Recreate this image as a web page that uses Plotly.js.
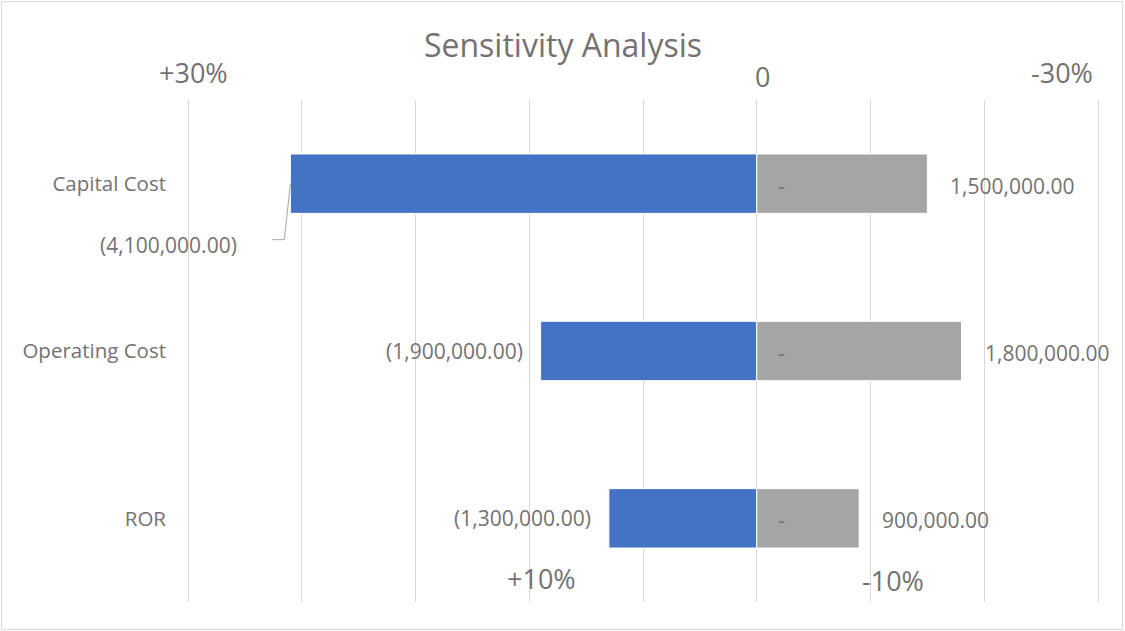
<!DOCTYPE html>
<html>
<head>
<meta charset="utf-8">
<script src="https://cdn.plot.ly/plotly-3.0.1.min.js"></script>
<style>html,body{margin:0;padding:0;background:#fff;}#chart{width:1125px;height:631px;}</style>
</head>
<body>
<div id="chart"></div>
<script>
// ---- data ----
const categories = ["Capital Cost", "Operating Cost", "ROR"];
const increaseValues = [-4100000, -1900000, -1300000];   // blue (+ change)
const decreaseValues = [1500000, 1800000, 900000];       // gray (- change)
const baseLabels = ["-", "-", "-"];
const scenarioLabels = ["+30%", "0", "-30%", "+10%", "-10%"];
const chartTitle = "Sensitivity Analysis";

// ---- styling / layout ----
const W = 1125, H = 631;
const pad = 10;                               // extra pixels each side so edge gridlines are drawn
const L = 188 - pad, R = 1098 + pad, T = 100, B = 602;
const textColor = "#757171";
const font = "Open Sans, sans-serif";
const px2x = p => (p - L) / (R - L);
const px2y = p => (B - p) / (B - T);
const unitPx = 113.75;                        // pixels per 1,000,000
const xMin = -5000000 - pad * 1000000 / unitPx, xMax = 3000000 + pad * 1000000 / unitPx;

function fmt(v) {
  const s = Math.abs(v).toLocaleString("en-US", {minimumFractionDigits: 2, maximumFractionDigits: 2});
  return v < 0 ? "(" + s + ")" : s;
}

const blue = {
  type: "bar", orientation: "h", y: categories, x: increaseValues, base: 0,
  width: 0.355, marker: {color: "#4472C4", line: {color: "#ffffff", width: 1}},
  hoverinfo: "x+y", showlegend: false
};
const gray = {
  type: "bar", orientation: "h", y: categories, x: decreaseValues, base: 0,
  width: 0.355, marker: {color: "#A5A5A5", line: {color: "#ffffff", width: 1}},
  hoverinfo: "x+y", showlegend: false
};

const labelFont = {family: font, size: 21, color: textColor};
const annotations = [];
categories.forEach((c, i) => {
  if (i === 0) {
    annotations.push({x: increaseValues[i], y: c, xref: "x", yref: "y", text: fmt(increaseValues[i]),
      showarrow: false, xanchor: "right", yanchor: "middle", xshift: -51, yshift: -61, font: labelFont});
  } else {
    annotations.push({x: increaseValues[i], y: c, xref: "x", yref: "y", text: fmt(increaseValues[i]),
      showarrow: false, xanchor: "right", yanchor: "middle", xshift: -16, yshift: 0, font: labelFont});
  }
  annotations.push({x: decreaseValues[i], y: c, xref: "x", yref: "y", text: fmt(decreaseValues[i]),
    showarrow: false, xanchor: "left", yanchor: "middle", xshift: 21, yshift: -2, font: labelFont});
  annotations.push({x: 0, y: c, xref: "x", yref: "y", text: baseLabels[i],
    showarrow: false, xanchor: "center", yanchor: "middle", xshift: 25, yshift: -2, font: labelFont});
});

const scenPos = [[193, 72], [762, 76], [1062, 72], [541, 578], [893, 580]];
scenarioLabels.forEach((s, i) => {
  annotations.push({x: px2x(scenPos[i][0]), y: px2y(scenPos[i][1]), xref: "paper", yref: "paper",
    text: s, showarrow: false, xanchor: "center", yanchor: "middle",
    font: {family: font, size: 27, color: textColor}});
});

const shapes = [
  {type: "rect", xref: "paper", yref: "paper", x0: px2x(1.5), x1: px2x(1122.5), y0: px2y(629.5), y1: px2y(1.5),
   line: {color: "#D9D9D9", width: 1}, fillcolor: "rgba(0,0,0,0)", layer: "below"},
  {type: "path", xref: "x", yref: "y", xsizemode: "pixel", ysizemode: "pixel",
   xanchor: increaseValues[0], yanchor: 0,
   path: "M -18 -56 L -6 -56 L 0 0", line: {color: "#A6A6A6", width: 1}}
];

const layout = {
  width: W, height: H,
  margin: {l: L, r: W - R, t: T, b: H - B, pad: 0},
  paper_bgcolor: "#ffffff", plot_bgcolor: "#ffffff",
  title: {text: chartTitle, x: 563 / W, xanchor: "center", y: 1 - 46 / H, yanchor: "middle",
          yref: "container", xref: "container", font: {family: font, size: 32, color: textColor}},
  barmode: "overlay",
  xaxis: {range: [xMin, xMax], dtick: 1000000, tick0: 0, showgrid: true, gridcolor: "#D9D9D9",
          gridwidth: 1, zeroline: false, showticklabels: false, ticks: "", showline: false, fixedrange: true},
  yaxis: {type: "category", categoryorder: "array", categoryarray: categories, autorange: false,
          range: [2.5, -0.5], showgrid: false, zeroline: false, showline: false, ticks: "",
          ticklabelstandoff: 11,
          tickfont: {family: font, size: 20.5, color: textColor}, fixedrange: true},
  annotations: annotations, shapes: shapes, showlegend: false
};

Plotly.newPlot("chart", [blue, gray], layout, {displayModeBar: false, staticPlot: true});
</script>
</body>
</html>
